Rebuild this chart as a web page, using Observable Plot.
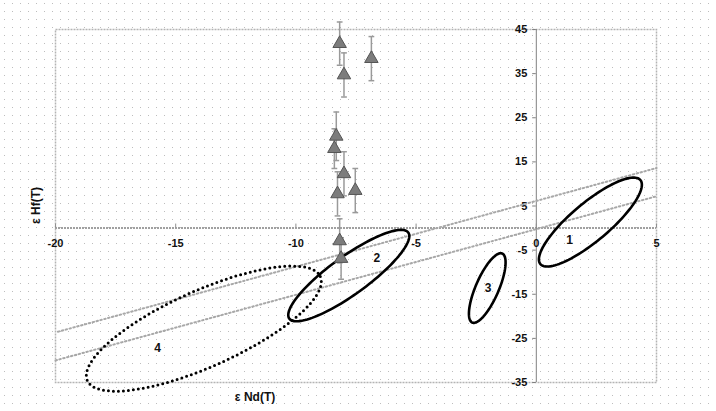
<!DOCTYPE html>
<html>
<head>
<meta charset="utf-8">
<script src="https://cdn.jsdelivr.net/npm/d3@7"></script>
<script src="https://cdn.jsdelivr.net/npm/@observablehq/plot@0.6"></script>
<style>
  html, body { margin: 0; padding: 0; }
  body {
    width: 716px; height: 411px; overflow: hidden;
    background-color: #fff;
    background-image: url("data:image/svg+xml,%3Csvg xmlns='http://www.w3.org/2000/svg' width='8' height='8'%3E%3Crect x='4' y='3' width='1' height='1' fill='%23bdbdbd'/%3E%3C/svg%3E");
    background-size: 8px 8px;
    background-repeat: repeat;
  }
  svg { background: transparent !important; }
</style>
</head>
<body>
<div id="chart"></div>
<script>
// Axis ticks
const xTicks = [-20, -15, -10, -5, 0, 5];
const yTicks = [-35, -25, -15, -5, 5, 15, 25, 35, 45];

// Sample points (εNd(T), εHf(T)) with error on εHf
const ptX   = [-8.18, -8.0, -6.86, -8.32, -8.4, -8.0, -7.53, -8.27, -8.18, -8.12];
const ptY   = [41.8, 34.7, 38.4, 20.8, 18.0, 12.3, 8.5, 7.75, -2.9, -6.9];
const ptErr = [4.9, 5.0, 5.0, 5.5, 4.5, 5.0, 5.0, 5.0, 5.0, 4.7];

// Two reference (array) lines
const lineAX = [-19.9, 5];
const lineAY = [-23.5, 13.6];
const lineBX = [-20, 5];
const lineBY = [-30.0, 7.2];

// Field ellipses: centre, major half-axis vector, minor half-axis vector (data units)
const ellName  = ["1", "2", "3", "4"];
const ellCx    = [2.25, -7.8, -2.04, -13.83];
const ellCy    = [1.36, -10.77, -13.6, -22.79];
const ellMajX  = [2.08, 2.475, 0.624, 4.846];
const ellMajY  = [9.52, 9.75, 7.82, 11.79];
const ellMinX  = [0.51, 0.463, 0.438, 0.645];
const ellMinY  = [-3.31, -3.49, -1.04, -7.87];
const ellDotted = [false, false, false, true];
const ellLabelX = [1.39, -6.63, -2.01, -15.75];
const ellLabelY = [-2.83, -6.76, -13.6, -27.2];

// Build tables
const points = ptX.map((x, i) => ({x, y: ptY[i], lo: ptY[i] - ptErr[i], hi: ptY[i] + ptErr[i]}));
const refLines = [
  ...lineAX.map((x, i) => ({id: "A", x, y: lineAY[i]})),
  ...lineBX.map((x, i) => ({id: "B", x, y: lineBY[i]}))
];
const N = 120;
const ellPts = [];
ellName.forEach((name, k) => {
  for (let j = 0; j <= N; j++) {
    const t = 2 * Math.PI * j / N;
    ellPts.push({
      id: name,
      dotted: ellDotted[k],
      x: ellCx[k] + Math.cos(t) * ellMajX[k] + Math.sin(t) * ellMinX[k],
      y: ellCy[k] + Math.cos(t) * ellMajY[k] + Math.sin(t) * ellMinY[k]
    });
  }
});
const ellLabels = ellName.map((t, k) => ({t, x: ellLabelX[k], y: ellLabelY[k]}));

const font = "'Liberation Sans', Arial, sans-serif";

const chart = Plot.plot({
  width: 716,
  height: 411,
  marginLeft: 55,
  marginRight: 60,
  marginTop: 29,
  marginBottom: 29,
  style: {background: "transparent", fontFamily: font},
  x: {domain: [-20, 5], axis: null},
  y: {domain: [-35, 45], axis: null},
  marks: [
    Plot.frame({stroke: "#b4b4b4", strokeWidth: 1.5, strokeDasharray: "2,1"}),
    // axes through the origin
    Plot.ruleY([0], {stroke: "#a0a0a0", strokeWidth: 2, strokeDasharray: "2,1"}),
    Plot.ruleX([0], {stroke: "#808080", strokeWidth: 1}),
    // y ticks & labels
    Plot.ruleY(yTicks, {x1: -0.15, x2: 0, stroke: "#808080"}),
    Plot.text(yTicks, {x: 0, y: d => d, text: d => String(d), textAnchor: "end", dx: -9,
      fontWeight: "bold", fontSize: 11, fill: "#111"}),
    // x ticks & labels
    Plot.ruleX(xTicks, {y1: 0, y2: 0.9, stroke: "#909090"}),
    Plot.text(xTicks, {x: d => d, y: 0, text: d => String(d), dy: 15,
      fontWeight: "bold", fontSize: 11, fill: "#111"}),
    // reference lines
    Plot.line(refLines, {x: "x", y: "y", z: "id", stroke: "#a8a8a8", strokeWidth: 2, strokeDasharray: "1.5,2.5"}),
    // ellipses
    Plot.line(ellPts.filter(d => !d.dotted), {x: "x", y: "y", z: "id", stroke: "#000", strokeWidth: 2.6}),
    Plot.line(ellPts.filter(d => d.dotted), {x: "x", y: "y", z: "id", stroke: "#000", strokeWidth: 3,
      strokeDasharray: "0,5", strokeLinecap: "round"}),
    Plot.text(ellLabels, {x: "x", y: "y", text: "t", fontWeight: "bold", fontSize: 12, fill: "#111"}),
    // error bars
    Plot.ruleX(points, {x: "x", y1: "lo", y2: "hi", stroke: "#9a9a9a", strokeWidth: 1.5}),
    Plot.link(points, {x1: d => d.x - 0.12, x2: d => d.x + 0.12, y1: "hi", y2: "hi", stroke: "#9a9a9a", strokeWidth: 1.5}),
    Plot.link(points, {x1: d => d.x - 0.12, x2: d => d.x + 0.12, y1: "lo", y2: "lo", stroke: "#9a9a9a", strokeWidth: 1.5}),
    // triangles
    Plot.dot(points, {x: "x", y: "y", symbol: "triangle", r: 5, fill: "#7c7c7c", stroke: "#555", strokeWidth: 1}),
    // axis titles
    Plot.text(["ε Nd(T)"], {x: -11.7, y: -35, dy: 15, fontWeight: "bold", fontSize: 12, fill: "#111"}),
    Plot.text(["ε Hf(T)"], {x: -20, y: 5.1, dx: -19, rotate: -90, fontWeight: "bold", fontSize: 12, fill: "#111"})
  ]
});
document.getElementById("chart").appendChild(chart);
</script>
</body>
</html>
